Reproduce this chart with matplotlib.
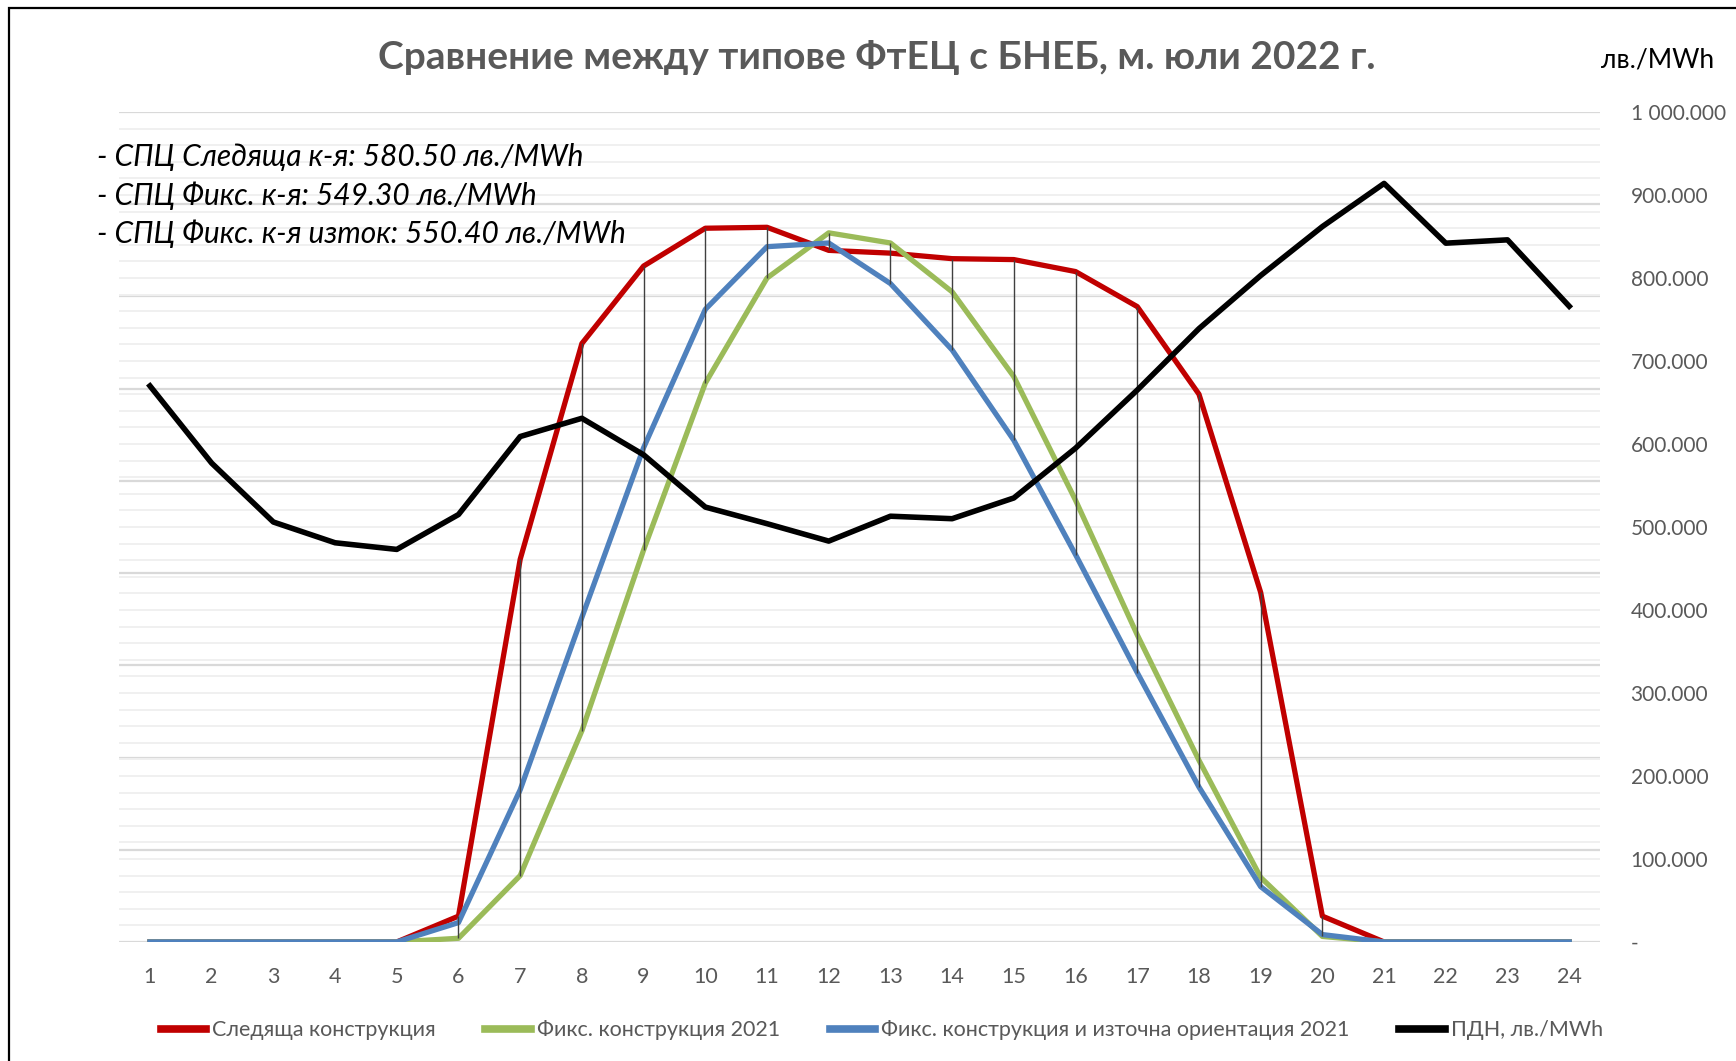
import matplotlib.pyplot as plt
from matplotlib.ticker import MultipleLocator, FuncFormatter
from matplotlib.patches import Rectangle

plt.rcParams['font.family'] = ['Lato', 'Noto Sans', 'DejaVu Sans']

# hours of the day
hours = list(range(1, 25))

# production per series (hidden primary axis)
tracking = [0, 0, 0, 0, 0, 0.028, 0.415, 0.649, 0.733, 0.774, 0.775, 0.750,
            0.747, 0.741, 0.740, 0.727, 0.689, 0.594, 0.379, 0.028, 0, 0, 0, 0]
fixed = [0, 0, 0, 0, 0, 0.004, 0.072, 0.229, 0.425, 0.606, 0.720, 0.769,
         0.758, 0.705, 0.613, 0.479, 0.333, 0.197, 0.070, 0.006, 0, 0, 0, 0]
fixed_east = [0, 0, 0, 0, 0, 0.021, 0.165, 0.352, 0.536, 0.686, 0.754, 0.758,
              0.714, 0.642, 0.544, 0.420, 0.292, 0.168, 0.060, 0.008, 0, 0, 0, 0]

# day-ahead price, лв./MWh (right axis)
price = [670, 577, 506, 481, 473, 515, 609, 631, 587, 524, 504, 483,
         513, 510, 535, 595, 665, 739, 803, 862, 914, 842, 846, 766]

labels = ['Следяща конструкция', 'Фикс. конструкция 2021',
          'Фикс. конструкция и източна ориентация 2021', 'ПДН, лв./MWh']
notes = ['- СПЦ Следяща к-я: 580.50 лв./MWh',
         '- СПЦ Фикс. к-я: 549.30 лв./MWh',
         '- СПЦ Фикс. к-я изток: 550.40 лв./MWh']
title = 'Сравнение между типове ФтЕЦ с БНЕБ, м. юли 2022 г.'

gray = '#595959'

fig = plt.figure(figsize=(17.36, 10.61), dpi=100)
ax = fig.add_axes([0.0686, 0.1122, 0.9217 - 0.0686, 0.8944 - 0.1122])
ax2 = ax.twinx()

# primary (production) axis: hidden, carries all gridlines
ax.set_xlim(0.5, 24.5)
ax.set_ylim(0, 0.9)
ax.yaxis.set_major_locator(MultipleLocator(0.1))
ax.yaxis.set_minor_locator(MultipleLocator(0.018))
ax.grid(axis='y', which='minor', color='#F0F0F0', lw=1.4, zorder=0)
ax.grid(axis='y', which='major', color='#D9D9D9', lw=1.6, zorder=0)
ax.tick_params(axis='y', which='both', left=False, labelleft=False)
ax.set_xticks(hours)
ax.tick_params(axis='x', length=0, pad=18, labelsize=15.5, labelcolor=gray)
for s in ax.spines.values():
    s.set_visible(False)

l1, = ax.plot(hours, tracking, color='#C00000', lw=3.8, zorder=3)
l2, = ax.plot(hours, fixed, color='#9BBB59', lw=3.8, zorder=3)
l3, = ax.plot(hours, fixed_east, color='#4F81BD', lw=3.8, zorder=3)

# high-low lines between the production series
lows = [min(a, b, c) for a, b, c in zip(tracking, fixed, fixed_east)]
highs = [max(a, b, c) for a, b, c in zip(tracking, fixed, fixed_east)]
ax.vlines(hours, lows, highs, color='#404040', lw=1.0, zorder=4)

# secondary (price) axis
ax2.set_ylim(0, 1000)
ax2.yaxis.set_major_locator(MultipleLocator(100))
ax2.yaxis.set_major_formatter(FuncFormatter(
    lambda v, p: '-' if v == 0 else f'{v:,.3f}'.replace(',', ' ')))
ax2.tick_params(axis='y', length=0, pad=22, labelsize=15, labelcolor=gray)
for t in ax2.get_yticklabels():
    t.set_horizontalalignment('left')
for s in ax2.spines.values():
    s.set_visible(False)
l4, = ax2.plot(hours, price, color='black', lw=4.0, zorder=5)

fig.text(0.505, 0.946, title, ha='center', va='center', fontsize=28,
         fontweight='bold', color=gray)
fig.text(0.955, 0.943, 'лв./MWh', ha='center', va='center', fontsize=19,
         color='black')
for i, n in enumerate(notes):
    fig.text(0.056, 0.852 - i * 0.0362, n, ha='left', va='center',
             fontsize=21.5, style='italic', color='black')

leg = fig.legend([l1, l2, l3, l4], labels, loc='center', ncol=4,
                 bbox_to_anchor=(0.508, 0.029), frameon=False, fontsize=15.5,
                 handlelength=2.1, handletextpad=0.3, columnspacing=2.3,
                 labelcolor=gray)
for h in leg.get_lines():
    h.set_linewidth(5.5)

# outer frame (only left and top edges inside the image)
fig.patches.append(Rectangle((9 / 1736, -0.1), 1.2, 1.1 - 8 / 1061,
                             transform=fig.transFigure, fill=False,
                             ec='black', lw=1.6))

fig.savefig('out.png', dpi=100)
